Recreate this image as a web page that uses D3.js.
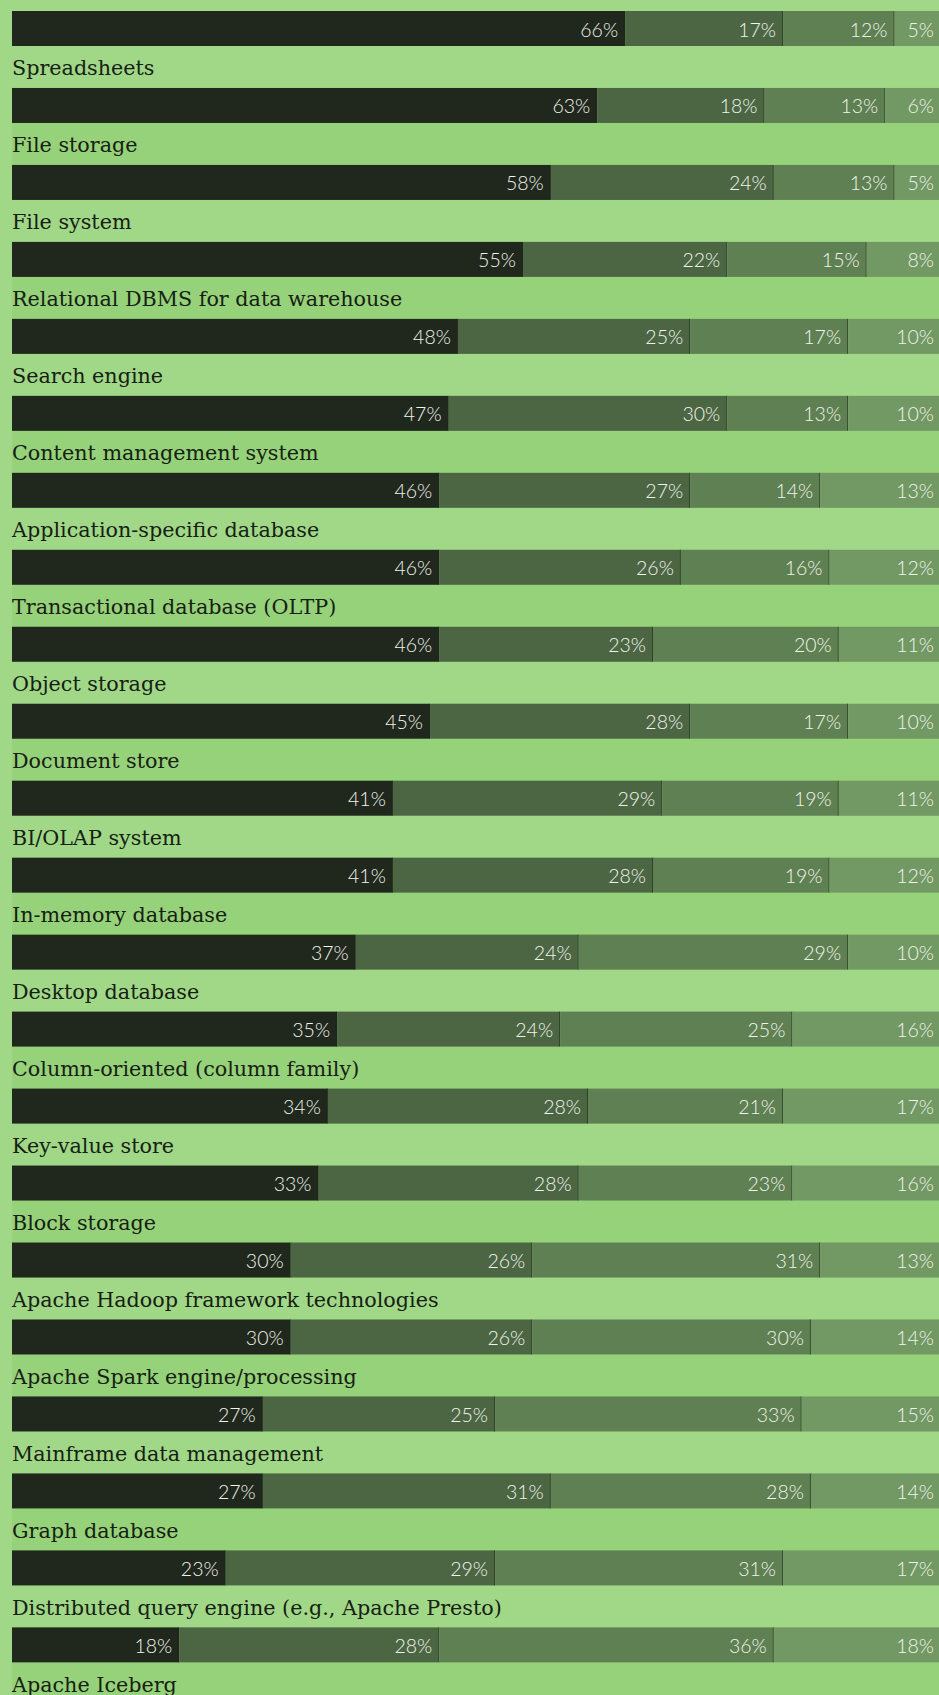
<!DOCTYPE html>
<html>
<head>
<meta charset="utf-8">
<script src="https://cdn.jsdelivr.net/npm/d3@7"></script>
<style>
  html, body { margin: 0; padding: 0; background: #a0d888; }
  svg { display: block; }
</style>
</head>
<body>
<div id="chart"></div>
<script>
// categories, top to bottom (the first row's label sits above the visible area)
const categories = [
  "",
  "Spreadsheets",
  "File storage",
  "File system",
  "Relational DBMS for data warehouse",
  "Search engine",
  "Content management system",
  "Application-specific database",
  "Transactional database (OLTP)",
  "Object storage",
  "Document store",
  "BI/OLAP system",
  "In-memory database",
  "Desktop database",
  "Column-oriented (column family)",
  "Key-value store",
  "Block storage",
  "Apache Hadoop framework technologies",
  "Apache Spark engine/processing",
  "Mainframe data management",
  "Graph database",
  "Distributed query engine (e.g., Apache Presto)",
  "Apache Iceberg"
]

// the four stacked shares (percent), one value per category
const share1 = [66, 63, 58, 55, 48, 47, 46, 46, 46, 45, 41, 41, 37, 35, 34, 33, 30, 30, 27, 27, 23, 18, null]
const share2 = [17, 18, 24, 22, 25, 30, 27, 26, 23, 28, 29, 28, 24, 24, 28, 28, 26, 26, 25, 31, 29, 28, null]
const share3 = [12, 13, 13, 15, 17, 13, 14, 16, 20, 17, 19, 19, 29, 25, 21, 23, 31, 30, 33, 28, 31, 36, null]
const share4 = [5, 6, 5, 8, 10, 10, 13, 12, 11, 10, 11, 12, 10, 16, 17, 16, 13, 14, 15, 14, 17, 18, null]

const keys = ["share1", "share2", "share3", "share4"]
const colors = ["#20271c", "#4c6644", "#5f8052", "#729863"]

const width = 939
const height = 1695
const padLeft = 12
const padTop = 11
const step = 76.97
const barH = 35

const rows = categories.map((c, i) => ({
  name: c,
  index: i,
  share1: share1[i],
  share2: share2[i],
  share3: share3[i],
  share4: share4[i]
}))

const svg = d3.select("#chart")
  .append("svg")
  .attr("width", width)
  .attr("height", height)
  .attr("viewBox", `0 0 ${width} ${height}`)

// scales
const x = d3.scaleLinear().domain([0, 100]).range([padLeft, width + 2])
const y = d3.scaleBand()
  .domain(categories)
  .range([padTop, padTop + step * (categories.length - (step - barH) / step)])
  .paddingInner((step - barH) / step)
  .paddingOuter(0)
  .align(0)

// alternating row bands (label + bar)
const bandTop = d => Math.max(padTop, y(d.name) - (step - barH))
svg.append("g")
  .selectAll("rect")
  .data(rows.filter(d => d.index % 2 === 0))
  .join("rect")
  .attr("x", padLeft)
  .attr("width", width - padLeft)
  .attr("y", d => bandTop(d))
  .attr("height", d => y(d.name) + barH - bandTop(d))
  .attr("fill", "#96d27a")

// category labels
svg.append("g")
  .selectAll("text")
  .data(rows.filter(d => d.name !== ""))
  .join("text")
  .attr("x", padLeft)
  .attr("y", d => y(d.name) - 12.5)
  .attr("fill", "#172013")
  .attr("font-family", "'DejaVu Serif', serif")
  .attr("font-size", "20.7px")
  .text(d => d.name)

// stacked segments
const stacked = d3.stack().keys(keys)(rows.filter(d => d.share1 != null))

const layer = svg.append("g")
  .selectAll("g")
  .data(stacked)
  .join("g")
  .attr("fill", (d, i) => colors[i])

layer.selectAll("rect")
  .data(d => d)
  .join("rect")
  .attr("x", d => x(d[0]))
  .attr("y", d => y(d.data.name))
  .attr("width", d => x(d[1]) - x(d[0]))
  .attr("height", y.bandwidth())

// thin divider at each segment's right edge
layer.filter((d, i) => i < keys.length - 1)
  .selectAll("line")
  .data(d => d)
  .join("line")
  .attr("x1", d => x(d[1]) - 0.5)
  .attr("x2", d => x(d[1]) - 0.5)
  .attr("y1", d => y(d.data.name))
  .attr("y2", d => y(d.data.name) + y.bandwidth())
  .attr("stroke", "#1c2818")
  .attr("stroke-opacity", 0.6)
  .attr("stroke-width", 1)

// percentage labels, right aligned inside each segment
layer.selectAll("text")
  .data(d => d.map(v => ({ v, key: d.key })))
  .join("text")
  .attr("x", d => x(d.v[1]) - 7)
  .attr("y", d => y(d.v.data.name) + 25.5)
  .attr("text-anchor", "end")
  .attr("fill", "#f0f4ec")
  .attr("font-family", "Lato, sans-serif")
  .attr("font-weight", 300)
  .attr("font-size", "19.5px")
  .text(d => d.v.data[d.key] + "%")
</script>
</body>
</html>
